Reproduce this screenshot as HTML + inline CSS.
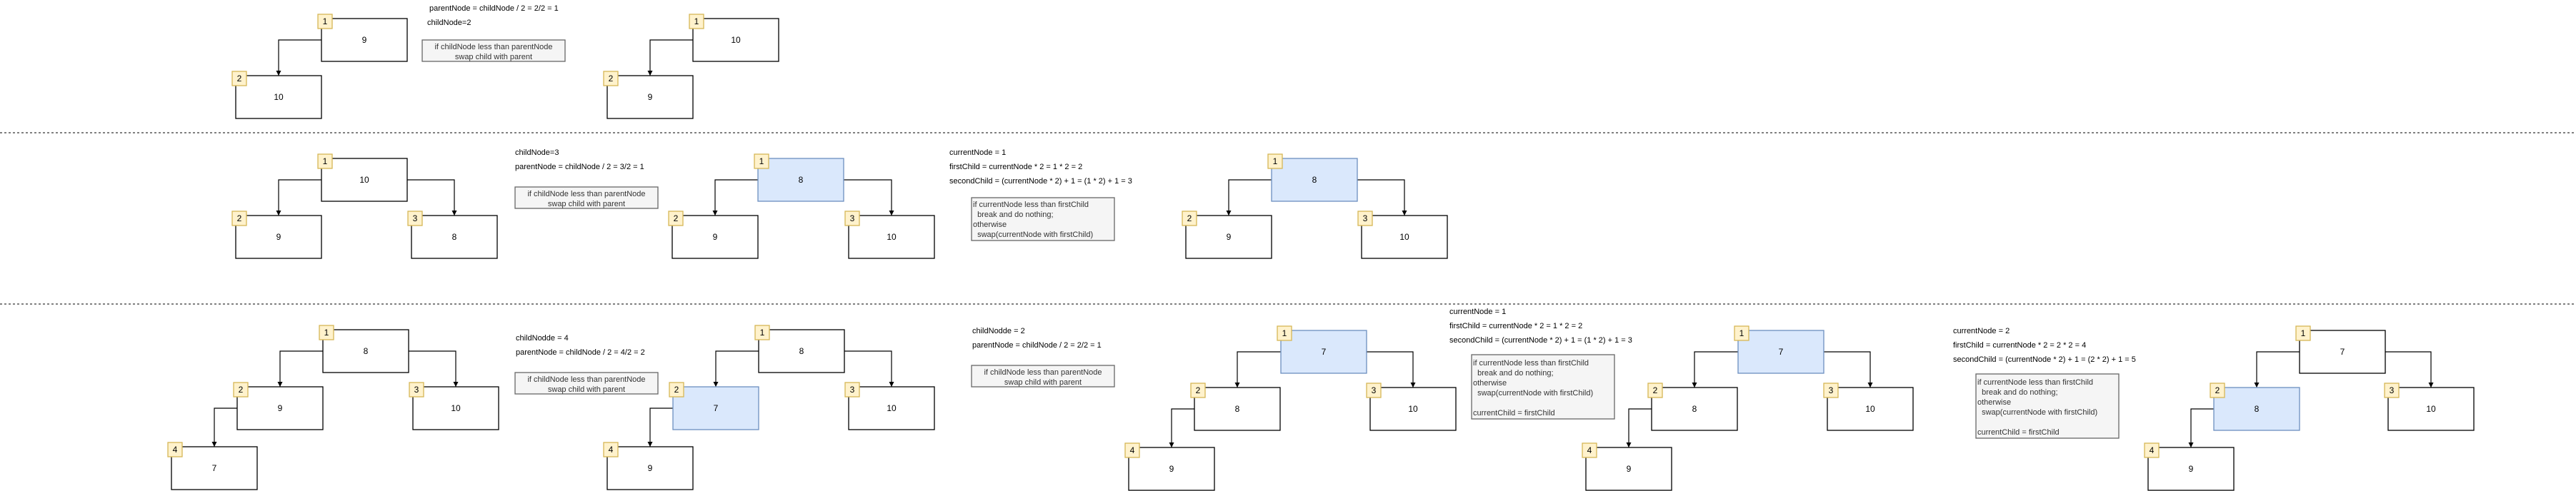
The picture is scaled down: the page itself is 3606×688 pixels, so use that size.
<!DOCTYPE html>
<html><head><meta charset="utf-8"><style>
html,body{margin:0;padding:0;background:#fff;}
svg{display:block;}
text{font-family:"Liberation Sans",Arial,sans-serif;}
.n{fill:#fff;stroke:#000;stroke-width:1.3;}
.b{fill:#dae8fc;stroke:#6c8ebf;stroke-width:1.3;}
.g{fill:#fff2cc;stroke:#d6b656;stroke-width:1.3;}
.gr{fill:#f5f5f5;stroke:#666;stroke-width:1.3;}
.e{fill:none;stroke:#000;stroke-width:1.2;marker-end:url(#a);}
.t{font-size:12px;text-anchor:middle;fill:#000;}
.s{font-size:11px;fill:#000;}
.gt{font-size:11px;fill:#333;}
</style></head><body>
<svg width="3606" height="688" viewBox="0 0 3606 688" xmlns="http://www.w3.org/2000/svg">
<defs><marker id="a" markerWidth="8" markerHeight="8" refX="7" refY="4" orient="auto" markerUnits="userSpaceOnUse"><path d="M0,0.5 L7,4 L0,7.5 Z" fill="#000"/></marker></defs>

<line x1="0" y1="186" x2="3606" y2="186" stroke="#000" stroke-dasharray="3 3"/>
<line x1="0" y1="426" x2="3606" y2="426" stroke="#000" stroke-dasharray="3 3"/>

<!-- R1T1 -->
<path class="e" d="M450,56 H390 V106"/>
<rect class="n" x="450" y="26" width="120" height="60"/><text class="t" x="510" y="60">9</text>
<rect class="g" x="445" y="20" width="20" height="20"/><text class="t" x="455" y="34">1</text>
<rect class="n" x="330" y="106" width="120" height="60"/><text class="t" x="390" y="140">10</text>
<rect class="g" x="325" y="100" width="20" height="20"/><text class="t" x="335" y="114">2</text>

<text class="s" x="601" y="15">parentNode =  childNode / 2 = 2/2 = 1</text>
<text class="s" x="598" y="35">childNode=2</text>
<rect class="gr" x="591" y="56" width="200" height="30"/>
<text class="gt" x="691" y="69" text-anchor="middle">if childNode less than parentNode</text>
<text class="gt" x="691" y="83" text-anchor="middle">swap child with parent</text>

<!-- R1T2 -->
<path class="e" d="M970,56 H910 V106"/>
<rect class="n" x="970" y="26" width="120" height="60"/><text class="t" x="1030" y="60">10</text>
<rect class="g" x="965" y="20" width="20" height="20"/><text class="t" x="975" y="34">1</text>
<rect class="n" x="850" y="106" width="120" height="60"/><text class="t" x="910" y="140">9</text>
<rect class="g" x="845" y="100" width="20" height="20"/><text class="t" x="855" y="114">2</text>

<!-- R2T1 -->
<path class="e" d="M450,252 H390 V302"/>
<path class="e" d="M570,252 H636 V302"/>
<rect class="n" x="450" y="222" width="120" height="60"/><text class="t" x="510" y="256">10</text>
<rect class="g" x="445" y="216" width="20" height="20"/><text class="t" x="455" y="230">1</text>
<rect class="n" x="330" y="302" width="120" height="60"/><text class="t" x="390" y="336">9</text>
<rect class="g" x="325" y="296" width="20" height="20"/><text class="t" x="335" y="310">2</text>
<rect class="n" x="576" y="302" width="120" height="60"/><text class="t" x="636" y="336">8</text>
<rect class="g" x="571" y="296" width="20" height="20"/><text class="t" x="581" y="310">3</text>

<text class="s" x="721" y="217">childNode=3</text>
<text class="s" x="721" y="237">parentNode =  childNode / 2 = 3/2 = 1</text>
<rect class="gr" x="721" y="262" width="200" height="30"/>
<text class="gt" x="821" y="275" text-anchor="middle">if childNode less than parentNode</text>
<text class="gt" x="821" y="289" text-anchor="middle">swap child with parent</text>

<!-- R2T2 -->
<path class="e" d="M1061,252 H1001 V302"/>
<path class="e" d="M1181,252 H1248 V302"/>
<rect class="b" x="1061" y="222" width="120" height="60"/><text class="t" x="1121" y="256">8</text>
<rect class="g" x="1056" y="216" width="20" height="20"/><text class="t" x="1066" y="230">1</text>
<rect class="n" x="941" y="302" width="120" height="60"/><text class="t" x="1001" y="336">9</text>
<rect class="g" x="936" y="296" width="20" height="20"/><text class="t" x="946" y="310">2</text>
<rect class="n" x="1188" y="302" width="120" height="60"/><text class="t" x="1248" y="336">10</text>
<rect class="g" x="1183" y="296" width="20" height="20"/><text class="t" x="1193" y="310">3</text>

<text class="s" x="1329" y="217">currentNode = 1</text>
<text class="s" x="1329" y="237">firstChild = currentNode * 2 = 1 * 2 = 2</text>
<text class="s" x="1329" y="257">secondChild = (currentNode * 2) + 1 = (1 * 2) + 1 = 3</text>
<rect class="gr" x="1360" y="277" width="200" height="60"/>
<text class="gt" x="1362" y="290" xml:space="preserve">if currentNode less than firstChild</text>
<text class="gt" x="1362" y="304" xml:space="preserve">  break and do nothing;</text>
<text class="gt" x="1362" y="318">otherwise</text>
<text class="gt" x="1362" y="332" xml:space="preserve">  swap(currentNode with firstChild)</text>

<!-- R2T3 -->
<path class="e" d="M1780,252 H1720 V302"/>
<path class="e" d="M1900,252 H1966 V302"/>
<rect class="b" x="1780" y="222" width="120" height="60"/><text class="t" x="1840" y="256">8</text>
<rect class="g" x="1775" y="216" width="20" height="20"/><text class="t" x="1785" y="230">1</text>
<rect class="n" x="1660" y="302" width="120" height="60"/><text class="t" x="1720" y="336">9</text>
<rect class="g" x="1655" y="296" width="20" height="20"/><text class="t" x="1665" y="310">2</text>
<rect class="n" x="1906" y="302" width="120" height="60"/><text class="t" x="1966" y="336">10</text>
<rect class="g" x="1901" y="296" width="20" height="20"/><text class="t" x="1911" y="310">3</text>

<!-- R3T1 -->
<path class="e" d="M452,492 H392 V542"/>
<path class="e" d="M572,492 H638 V542"/>
<path class="e" d="M332,572 H300 V626"/>
<rect class="n" x="452" y="462" width="120" height="60"/><text class="t" x="512" y="496">8</text>
<rect class="g" x="447" y="456" width="20" height="20"/><text class="t" x="457" y="470">1</text>
<rect class="n" x="332" y="542" width="120" height="60"/><text class="t" x="392" y="576">9</text>
<rect class="g" x="327" y="536" width="20" height="20"/><text class="t" x="337" y="550">2</text>
<rect class="n" x="578" y="542" width="120" height="60"/><text class="t" x="638" y="576">10</text>
<rect class="g" x="573" y="536" width="20" height="20"/><text class="t" x="583" y="550">3</text>
<rect class="n" x="240" y="626" width="120" height="60"/><text class="t" x="300" y="660">7</text>
<rect class="g" x="235" y="620" width="20" height="20"/><text class="t" x="245" y="634">4</text>

<text class="s" x="722" y="477">childNodde = 4</text>
<text class="s" x="722" y="497">parentNode =  childNode / 2 = 4/2 = 2</text>
<rect class="gr" x="721" y="522" width="200" height="30"/>
<text class="gt" x="821" y="535" text-anchor="middle">if childNode less than parentNode</text>
<text class="gt" x="821" y="549" text-anchor="middle">swap child with parent</text>

<!-- R3T2 -->
<path class="e" d="M1062,492 H1002 V542"/>
<path class="e" d="M1182,492 H1248 V542"/>
<path class="e" d="M942,572 H910 V626"/>
<rect class="n" x="1062" y="462" width="120" height="60"/><text class="t" x="1122" y="496">8</text>
<rect class="g" x="1057" y="456" width="20" height="20"/><text class="t" x="1067" y="470">1</text>
<rect class="b" x="942" y="542" width="120" height="60"/><text class="t" x="1002" y="576">7</text>
<rect class="g" x="937" y="536" width="20" height="20"/><text class="t" x="947" y="550">2</text>
<rect class="n" x="1188" y="542" width="120" height="60"/><text class="t" x="1248" y="576">10</text>
<rect class="g" x="1183" y="536" width="20" height="20"/><text class="t" x="1193" y="550">3</text>
<rect class="n" x="850" y="626" width="120" height="60"/><text class="t" x="910" y="660">9</text>
<rect class="g" x="845" y="620" width="20" height="20"/><text class="t" x="855" y="634">4</text>

<text class="s" x="1361" y="467">childNodde = 2</text>
<text class="s" x="1361" y="487">parentNode =  childNode / 2 = 2/2 = 1</text>
<rect class="gr" x="1360" y="512" width="200" height="30"/>
<text class="gt" x="1460" y="525" text-anchor="middle">if childNode less than parentNode</text>
<text class="gt" x="1460" y="539" text-anchor="middle">swap child with parent</text>

<!-- R3T3 -->
<path class="e" d="M1793,493 H1732 V543"/>
<path class="e" d="M1913,493 H1978 V543"/>
<path class="e" d="M1672,573 H1640 V627"/>
<rect class="b" x="1793" y="463" width="120" height="60"/><text class="t" x="1853" y="497">7</text>
<rect class="g" x="1788" y="457" width="20" height="20"/><text class="t" x="1798" y="471">1</text>
<rect class="n" x="1672" y="543" width="120" height="60"/><text class="t" x="1732" y="577">8</text>
<rect class="g" x="1667" y="537" width="20" height="20"/><text class="t" x="1677" y="551">2</text>
<rect class="n" x="1918" y="543" width="120" height="60"/><text class="t" x="1978" y="577">10</text>
<rect class="g" x="1913" y="537" width="20" height="20"/><text class="t" x="1923" y="551">3</text>
<rect class="n" x="1580" y="627" width="120" height="60"/><text class="t" x="1640" y="661">9</text>
<rect class="g" x="1575" y="621" width="20" height="20"/><text class="t" x="1585" y="635">4</text>

<text class="s" x="2029" y="440">currentNode = 1</text>
<text class="s" x="2029" y="460">firstChild = currentNode * 2 = 1 * 2 = 2</text>
<text class="s" x="2029" y="480">secondChild = (currentNode * 2) + 1 = (1 * 2) + 1 = 3</text>
<rect class="gr" x="2060" y="497" width="200" height="90"/>
<text class="gt" x="2062" y="512" xml:space="preserve">if currentNode less than firstChild</text>
<text class="gt" x="2062" y="526" xml:space="preserve">  break and do nothing;</text>
<text class="gt" x="2062" y="540">otherwise</text>
<text class="gt" x="2062" y="554" xml:space="preserve">  swap(currentNode with firstChild)</text>
<text class="gt" x="2062" y="582">currentChild = firstChild</text>

<!-- R3T4 -->
<path class="e" d="M2433,493 H2372 V543"/>
<path class="e" d="M2553,493 H2618 V543"/>
<path class="e" d="M2312,573 H2280 V627"/>
<rect class="b" x="2433" y="463" width="120" height="60"/><text class="t" x="2493" y="497">7</text>
<rect class="g" x="2428" y="457" width="20" height="20"/><text class="t" x="2438" y="471">1</text>
<rect class="n" x="2312" y="543" width="120" height="60"/><text class="t" x="2372" y="577">8</text>
<rect class="g" x="2307" y="537" width="20" height="20"/><text class="t" x="2317" y="551">2</text>
<rect class="n" x="2558" y="543" width="120" height="60"/><text class="t" x="2618" y="577">10</text>
<rect class="g" x="2553" y="537" width="20" height="20"/><text class="t" x="2563" y="551">3</text>
<rect class="n" x="2220" y="627" width="120" height="60"/><text class="t" x="2280" y="661">9</text>
<rect class="g" x="2215" y="621" width="20" height="20"/><text class="t" x="2225" y="635">4</text>

<text class="s" x="2734" y="467">currentNode = 2</text>
<text class="s" x="2734" y="487">firstChild = currentNode * 2 = 2 * 2 = 4</text>
<text class="s" x="2734" y="507">secondChild = (currentNode * 2) + 1 = (2 * 2) + 1 = 5</text>
<rect class="gr" x="2766" y="524" width="200" height="90"/>
<text class="gt" x="2768" y="539" xml:space="preserve">if currentNode less than firstChild</text>
<text class="gt" x="2768" y="553" xml:space="preserve">  break and do nothing;</text>
<text class="gt" x="2768" y="567">otherwise</text>
<text class="gt" x="2768" y="581" xml:space="preserve">  swap(currentNode with firstChild)</text>
<text class="gt" x="2768" y="609">currentChild = firstChild</text>

<!-- R3T5 -->
<path class="e" d="M3219,493 H3159 V543"/>
<path class="e" d="M3339,493 H3403 V543"/>
<path class="e" d="M3099,573 H3067 V627"/>
<rect class="n" x="3219" y="463" width="120" height="60"/><text class="t" x="3279" y="497">7</text>
<rect class="g" x="3214" y="457" width="20" height="20"/><text class="t" x="3224" y="471">1</text>
<rect class="b" x="3099" y="543" width="120" height="60"/><text class="t" x="3159" y="577">8</text>
<rect class="g" x="3094" y="537" width="20" height="20"/><text class="t" x="3104" y="551">2</text>
<rect class="n" x="3343" y="543" width="120" height="60"/><text class="t" x="3403" y="577">10</text>
<rect class="g" x="3338" y="537" width="20" height="20"/><text class="t" x="3348" y="551">3</text>
<rect class="n" x="3007" y="627" width="120" height="60"/><text class="t" x="3067" y="661">9</text>
<rect class="g" x="3002" y="621" width="20" height="20"/><text class="t" x="3012" y="635">4</text>
</svg>
</body></html>
